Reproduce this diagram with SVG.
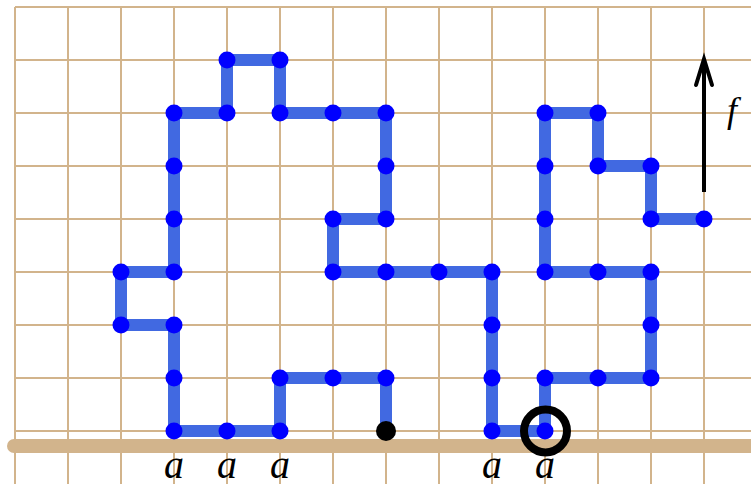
<svg xmlns="http://www.w3.org/2000/svg" width="751" height="484" viewBox="0 0 751 484">
<style>
.grid line{stroke:#D2B48C;stroke-width:2}
.ground{stroke:#D2B48C;stroke-width:14;stroke-linecap:round}
.walk{fill:none;stroke:#4169E1;stroke-width:12;stroke-linejoin:miter}
.node circle{fill:#0000FF}
.lbl{font-family:"Liberation Serif",serif;font-style:italic;fill:#000;text-anchor:middle}
</style>
<rect width="751" height="484" fill="#fff"/>
<g class="grid">
<line x1="15" y1="7" x2="751" y2="7"/><line x1="15" y1="60" x2="751" y2="60"/><line x1="15" y1="113" x2="751" y2="113"/><line x1="15" y1="166" x2="751" y2="166"/><line x1="15" y1="219" x2="751" y2="219"/><line x1="15" y1="272" x2="751" y2="272"/><line x1="15" y1="325" x2="751" y2="325"/><line x1="15" y1="378" x2="751" y2="378"/><line x1="15" y1="431" x2="751" y2="431"/>
<line x1="15" y1="7" x2="15" y2="484"/><line x1="68" y1="7" x2="68" y2="484"/><line x1="121" y1="7" x2="121" y2="484"/><line x1="174" y1="7" x2="174" y2="484"/><line x1="227" y1="7" x2="227" y2="484"/><line x1="280" y1="7" x2="280" y2="484"/><line x1="333" y1="7" x2="333" y2="484"/><line x1="386" y1="7" x2="386" y2="484"/><line x1="439" y1="7" x2="439" y2="484"/><line x1="492" y1="7" x2="492" y2="484"/><line x1="545" y1="7" x2="545" y2="484"/><line x1="598" y1="7" x2="598" y2="484"/><line x1="651" y1="7" x2="651" y2="484"/><line x1="704" y1="7" x2="704" y2="484"/>
</g>
<line class="ground" x1="14" y1="446" x2="760" y2="446"/>
<g id="connectors">
<polyline class="walk" points="386,431 386,378 333,378 280,378 280,431 227,431 174,431 174,378 174,325 121,325 121,272 174,272 174,219 174,166 174,113 227,113 227,60 280,60 280,113 333,113 386,113 386,166 386,219 333,219 333,272 386,272 439,272 492,272 492,325 492,378 492,431 545,431 545,378 598,378 651,378 651,325 651,272 598,272 545,272 545,219 545,166 545,113 598,113 598,166 651,166 651,219 704,219"/>
<line x1="704" y1="192" x2="704" y2="60" stroke="#000" stroke-width="4"/>
<polyline points="696,85 704,59 712,85" fill="none" stroke="#000" stroke-width="4" stroke-linejoin="miter" stroke-linecap="round"/>
</g>
<g class="node">
<g id="n1"><circle cx="386" cy="378" r="8.5"/></g>
<g id="n2"><circle cx="333" cy="378" r="8.5"/></g>
<g id="n3"><circle cx="280" cy="378" r="8.5"/></g>
<g id="n4"><circle cx="280" cy="431" r="8.5"/></g>
<g id="n5"><circle cx="227" cy="431" r="8.5"/></g>
<g id="n6"><circle cx="174" cy="431" r="8.5"/></g>
<g id="n7"><circle cx="174" cy="378" r="8.5"/></g>
<g id="n8"><circle cx="174" cy="325" r="8.5"/></g>
<g id="n9"><circle cx="121" cy="325" r="8.5"/></g>
<g id="n10"><circle cx="121" cy="272" r="8.5"/></g>
<g id="n11"><circle cx="174" cy="272" r="8.5"/></g>
<g id="n12"><circle cx="174" cy="219" r="8.5"/></g>
<g id="n13"><circle cx="174" cy="166" r="8.5"/></g>
<g id="n14"><circle cx="174" cy="113" r="8.5"/></g>
<g id="n15"><circle cx="227" cy="113" r="8.5"/></g>
<g id="n16"><circle cx="227" cy="60" r="8.5"/></g>
<g id="n17"><circle cx="280" cy="60" r="8.5"/></g>
<g id="n18"><circle cx="280" cy="113" r="8.5"/></g>
<g id="n19"><circle cx="333" cy="113" r="8.5"/></g>
<g id="n20"><circle cx="386" cy="113" r="8.5"/></g>
<g id="n21"><circle cx="386" cy="166" r="8.5"/></g>
<g id="n22"><circle cx="386" cy="219" r="8.5"/></g>
<g id="n23"><circle cx="333" cy="219" r="8.5"/></g>
<g id="n24"><circle cx="333" cy="272" r="8.5"/></g>
<g id="n25"><circle cx="386" cy="272" r="8.5"/></g>
<g id="n26"><circle cx="439" cy="272" r="8.5"/></g>
<g id="n27"><circle cx="492" cy="272" r="8.5"/></g>
<g id="n28"><circle cx="492" cy="325" r="8.5"/></g>
<g id="n29"><circle cx="492" cy="378" r="8.5"/></g>
<g id="n30"><circle cx="492" cy="431" r="8.5"/></g>
<g id="n31"><circle cx="545" cy="431" r="8.5"/></g>
<g id="n32"><circle cx="545" cy="378" r="8.5"/></g>
<g id="n33"><circle cx="598" cy="378" r="8.5"/></g>
<g id="n34"><circle cx="651" cy="378" r="8.5"/></g>
<g id="n35"><circle cx="651" cy="325" r="8.5"/></g>
<g id="n36"><circle cx="651" cy="272" r="8.5"/></g>
<g id="n37"><circle cx="598" cy="272" r="8.5"/></g>
<g id="n38"><circle cx="545" cy="272" r="8.5"/></g>
<g id="n39"><circle cx="545" cy="219" r="8.5"/></g>
<g id="n40"><circle cx="545" cy="166" r="8.5"/></g>
<g id="n41"><circle cx="545" cy="113" r="8.5"/></g>
<g id="n42"><circle cx="598" cy="113" r="8.5"/></g>
<g id="n43"><circle cx="598" cy="166" r="8.5"/></g>
<g id="n44"><circle cx="651" cy="166" r="8.5"/></g>
<g id="n45"><circle cx="651" cy="219" r="8.5"/></g>
<g id="n46"><circle cx="704" cy="219" r="8.5"/></g>
</g>
<g id="start"><circle cx="386" cy="431" r="10" fill="#000"/></g>
<g id="mark"><circle cx="545.5" cy="431" r="21.5" fill="none" stroke="#000" stroke-width="8"/></g>
<g id="labels">
<text class="lbl" x="174" y="478" font-size="40">a</text>
<text class="lbl" x="227" y="478" font-size="40">a</text>
<text class="lbl" x="280" y="478" font-size="40">a</text>
<text class="lbl" x="492" y="478" font-size="40">a</text>
<text class="lbl" x="545" y="478" font-size="40">a</text>
<text class="lbl" x="732" y="122" font-size="36">f</text>
</g>
</svg>
